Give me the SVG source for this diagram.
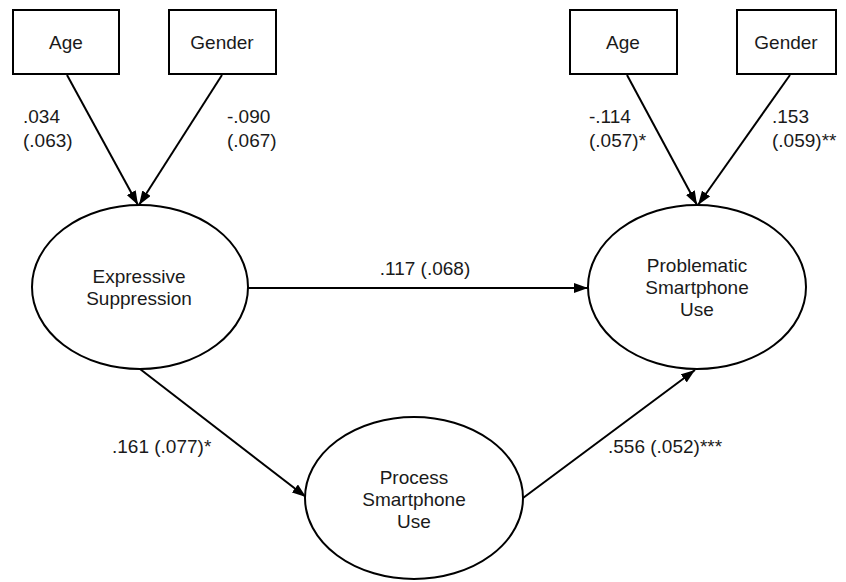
<svg xmlns="http://www.w3.org/2000/svg" width="846" height="582" viewBox="0 0 846 582">
<style>
.box{fill:#fff;stroke:#000;stroke-width:2}
.ell{fill:#fff;stroke:#000;stroke-width:2}
.edge{stroke:#000;stroke-width:2;fill:none;marker-end:url(#ah)}
text{font-family:"Liberation Sans",Arial,sans-serif;font-size:19px;fill:#1a1a1a}
.c{text-anchor:middle}
</style>
<defs>
<marker id="ah" markerUnits="userSpaceOnUse" markerWidth="14" markerHeight="10" refX="14" refY="5" orient="auto">
<path d="M0,0 L14,5 L0,10 Z" fill="#000"/>
</marker>
</defs>
<g id="connectors">
<line class="edge" x1="67" y1="75" x2="138" y2="205"/>
<line class="edge" x1="222" y1="75" x2="139" y2="205"/>
<line class="edge" x1="627" y1="75" x2="697" y2="205"/>
<line class="edge" x1="790" y1="75" x2="698" y2="205"/>
<line class="edge" x1="248" y1="288" x2="588" y2="288"/>
<line class="edge" x1="140" y1="369" x2="306" y2="497"/>
<line class="edge" x1="523" y1="498" x2="695" y2="370"/>
<text x="23" y="123">.034</text>
<text x="23" y="147">(.063)</text>
<text x="227" y="123">-.090</text>
<text x="227" y="147">(.067)</text>
<text x="589" y="123">-.114</text>
<text x="589" y="147">(.057)*</text>
<text x="772" y="123">.153</text>
<text x="772" y="147">(.059)**</text>
<text class="c" x="425" y="275">.117 (.068)</text>
<text x="112" y="453">.161 (.077)*</text>
<text x="608" y="453">.556 (.052)***</text>
</g>
<g id="age1"><rect class="box" x="13" y="10" width="106" height="64"/><text class="c" x="66" y="49">Age</text></g>
<g id="gender1"><rect class="box" x="169" y="10" width="107" height="64"/><text class="c" x="222" y="49">Gender</text></g>
<g id="age2"><rect class="box" x="570" y="10" width="107" height="64"/><text class="c" x="623" y="49">Age</text></g>
<g id="gender2"><rect class="box" x="737" y="10" width="99" height="64"/><text class="c" x="786" y="49">Gender</text></g>
<g id="expressive"><ellipse class="ell" cx="140" cy="287" rx="108" ry="82"/><text class="c" x="139" y="283">Expressive</text><text class="c" x="139" y="305">Suppression</text></g>
<g id="problematic"><ellipse class="ell" cx="697" cy="287" rx="109" ry="82"/><text class="c" x="697" y="272">Problematic</text><text class="c" x="697" y="294">Smartphone</text><text class="c" x="697" y="316">Use</text></g>
<g id="process"><ellipse class="ell" cx="414" cy="498" rx="109" ry="81"/><text class="c" x="414" y="484">Process</text><text class="c" x="414" y="506">Smartphone</text><text class="c" x="414" y="528">Use</text></g>
</svg>
